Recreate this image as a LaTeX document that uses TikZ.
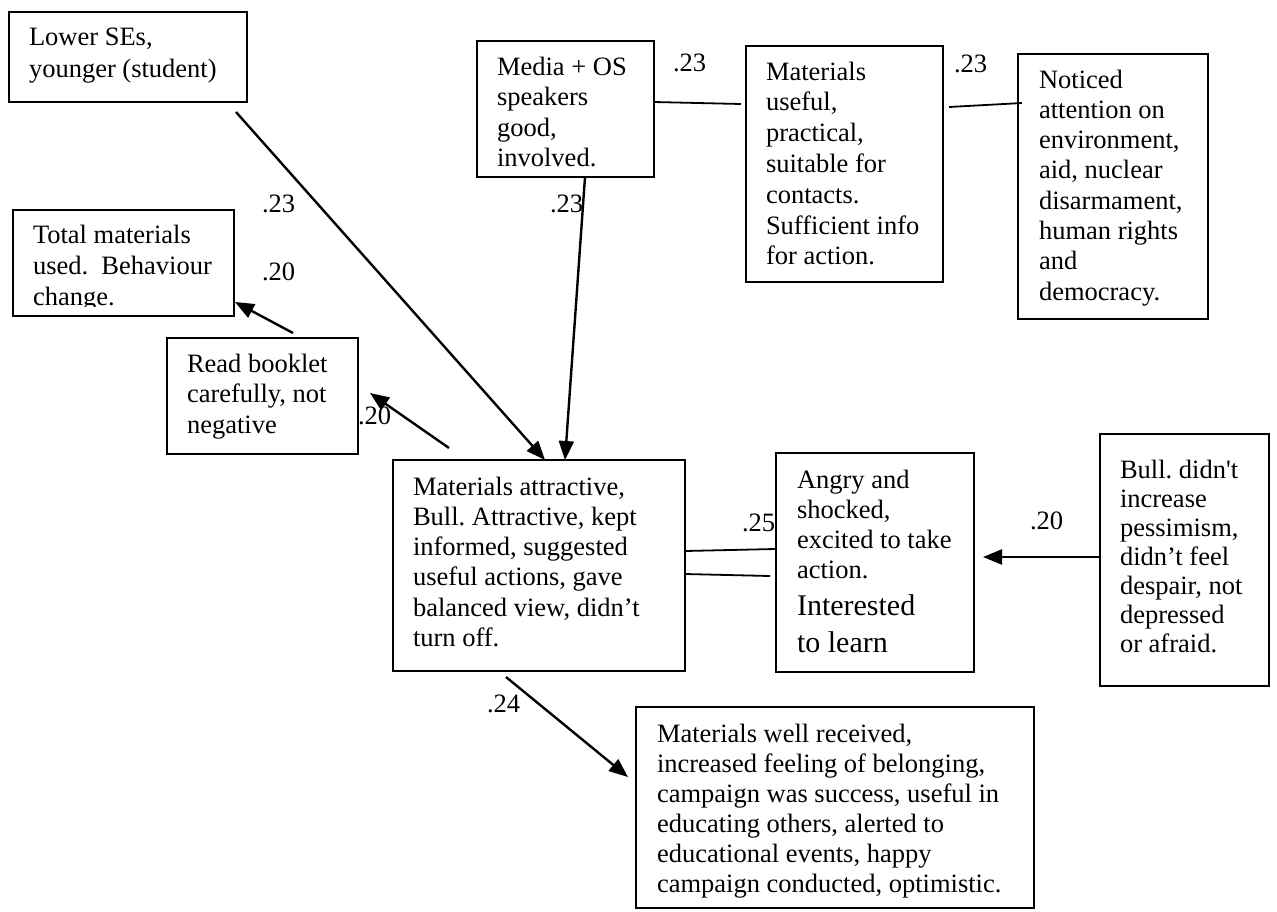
\documentclass[tikz,border=0pt]{standalone}
\usepackage{fontspec}
\setmainfont{Liberation Serif}
\usetikzlibrary{arrows.meta,calc}
\newcommand\ml[2][30.5pt]{\vtop{\frenchspacing\baselineskip=#1\relax\lineskiplimit=-100pt\halign{##\hfil\cr#2\crcr}}}
\begin{document}
\begin{tikzpicture}[x=1pt,y=-1pt,
  box/.style={draw, line width=1.8pt, rectangle, inner sep=0pt, outer sep=0pt, anchor=north west},
  txt/.style={inner sep=0pt, outer sep=0pt, anchor=base west, font=\fontsize{26.5}{30.5}\selectfont},
  lab/.style={inner sep=0pt, outer sep=0pt, anchor=base west, font=\fontsize{26.5}{30.5}\selectfont},
  arr/.style={line width=2.4pt, -{Triangle[length=19pt,width=15pt]}},
  ln/.style={line width=1.8pt}]
\useasboundingbox (0,0) rectangle (1277,911);

% boxes
\node[box, minimum width=238pt, minimum height=90pt]  (lower)   at (9,12) {};
\node[box, minimum width=221pt, minimum height=106pt] (total)   at (13,210) {};
\node[box, minimum width=177pt, minimum height=136pt] (media)   at (477,41) {};
\node[box, minimum width=197pt, minimum height=236pt] (useful)  at (746,46) {};
\node[box, minimum width=190pt, minimum height=265pt] (noticed) at (1018,54) {};
\node[box, minimum width=191pt, minimum height=116pt] (read)    at (167,338) {};
\node[box, minimum width=292pt, minimum height=211pt] (attr)    at (393,460) {};
\node[box, minimum width=198pt, minimum height=219pt] (angry)   at (776,453) {};
\node[box, minimum width=169pt, minimum height=252pt] (bull)    at (1100,434) {};
\node[box, minimum width=398pt, minimum height=201pt] (recv)    at (636,707) {};

% texts
\node[txt] (lowert) at (29,45) {\ml[32pt]{Lower SEs,\cr younger (student)}};
\begin{scope}
\clip (13,210) rectangle (234,306);
\node[txt] (totalt) at (33,243) {\ml[31pt]{Total materials\cr used.~ Behaviour\cr change.}};
\end{scope}
\node[txt] (mediat) at (497,75) {\ml{Media + OS\cr speakers\cr good,\cr involved.}};
\node[txt] (usefult) at (766,80) {\ml[30.8pt]{Materials\cr useful,\cr practical,\cr suitable for\cr contacts.\cr Sufficient info\cr for action.}};
\node[txt] (noticedt) at (1039,88) {\ml[30.3pt]{Noticed\cr attention on\cr environment,\cr aid, nuclear\cr disarmament,\cr human rights\cr and\cr democracy.}};
\node[txt] (readt) at (187,372) {\ml{Read booklet\cr carefully, not\cr negative}};
\node[txt] (attrt) at (413,495) {\ml[30.3pt]{Materials attractive,\cr Bull. Attractive, kept\cr informed, suggested\cr useful actions, gave\cr balanced view, didn’t\cr turn off.}};
\node[txt] (angryt) at (797,488) {\ml[30pt]{Angry and\cr shocked,\cr excited to take\cr action.\cr\noalign{\vskip7pt}{\fontsize{30}{36}\selectfont Interested}\cr\noalign{\vskip7pt}{\fontsize{30}{36}\selectfont to learn}}};
\node[txt] (bullt) at (1120,478) {\ml[29pt]{Bull. didn\textquotesingle t\cr increase\cr pessimism,\cr didn’t feel\cr despair, not\cr depressed\cr or afraid.}};
\node[txt] (recvt) at (657,742) {\ml[30pt]{Materials well received,\cr increased feeling of belonging,\cr campaign was success, useful in\cr educating others, alerted to\cr educational events, happy\cr campaign conducted, optimistic.}};

% connectors
\draw[arr] ($(lower.south west)+(227,10)$) -- ($(attr.north west)+(152,0)$);
\draw[arr] ($(media.south west)+(108,0)$) -- ($(attr.north west)+(172,0)$);
\draw[ln]  ($(media.north east)+(0,61)$) -- ($(useful.north west)+(-5,58)$);
\draw[ln]  ($(useful.north east)+(6,61)$) -- ($(noticed.north west)+(4,49)$);
\draw[arr] ($(read.north west)+(126,-5)$) -- ($(total.south east)+(1,-14)$);
\draw[arr] ($(attr.north west)+(56,-12)$) -- ($(read.north east)+(12,55)$);
\draw[ln]  ($(attr.north east)+(0,91)$) -- ($(angry.north west)+(-1,96)$);
\draw[ln]  ($(attr.north east)+(0,114)$) -- ($(angry.north west)+(-6,123)$);
\draw[arr] ($(bull.north west)+(0,123)$) -- ($(angry.north east)+(9,104)$);
\draw[arr] ($(attr.south west)+(113,6)$) -- ($(recv.north west)+(-8,70)$);

% labels
\node[lab] (l1) at (262,212) {.23};
\node[lab] (l2) at (262,280) {.20};
\node[lab] (l3) at (673,71) {.23};
\node[lab] (l4) at (550,212) {.23};
\node[lab] (l5) at (954,72) {.23};
\node[lab] (l6) at (358,424) {.20};
\node[lab] (l7) at (742,531) {.25};
\node[lab] (l8) at (1030,529) {.20};
\node[lab] (l9) at (487,712) {.24};
\end{tikzpicture}
\end{document}
